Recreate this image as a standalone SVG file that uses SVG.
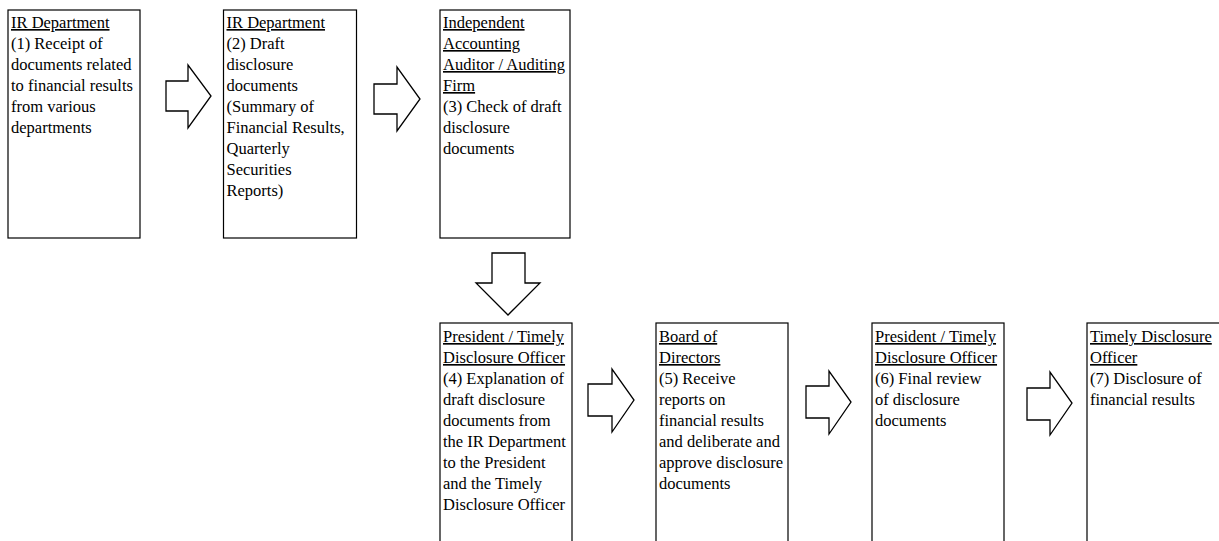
<svg xmlns="http://www.w3.org/2000/svg" width="1219" height="541" viewBox="0 0 1219 541">
<style>
.box{fill:#fff;stroke:#000;stroke-width:1.2}
.arr{fill:#fff;stroke:#000;stroke-width:1.3;stroke-linejoin:miter}
text{font-family:"Liberation Serif","Times New Roman",serif;font-size:16.5px;fill:#000}
.u{text-decoration:underline}
</style>
<rect width="1219" height="541" fill="#fff"/>
<g id="connectors">
<path class="arr" d="M166,81 H188 V65 L211,96 L188,128 V111 H166 Z"/>
<path class="arr" d="M374,84 H397 V67 L420,99 L397,131 V114 H374 Z"/>
<path class="arr" d="M492,253 H525 V283 H540 L508,315 L476,283 H492 Z"/>
<path class="arr" d="M588,384 H612 V369 L634,400 L612,432 V416 H588 Z"/>
<path class="arr" d="M806,386 H829 V371 L851,402 L829,434 V418 H806 Z"/>
<path class="arr" d="M1027,388 H1050 V372 L1072,403 L1050,435 V420 H1027 Z"/>
</g>
<g id="node1">
<rect class="box" x="8" y="10" width="132" height="228"/>
<text x="11" y="28"><tspan class="u">IR Department</tspan><tspan x="11" dy="21">(1) Receipt of</tspan><tspan x="11" dy="21">documents related</tspan><tspan x="11" dy="21">to financial results</tspan><tspan x="11" dy="21">from various</tspan><tspan x="11" dy="21">departments</tspan></text>
</g>
<g id="node2">
<rect class="box" x="223.5" y="10" width="133" height="228"/>
<text x="226.5" y="28"><tspan class="u">IR Department</tspan><tspan x="226.5" dy="21">(2) Draft</tspan><tspan x="226.5" dy="21">disclosure</tspan><tspan x="226.5" dy="21">documents</tspan><tspan x="226.5" dy="21">(Summary of</tspan><tspan x="226.5" dy="21">Financial Results,</tspan><tspan x="226.5" dy="21">Quarterly</tspan><tspan x="226.5" dy="21">Securities</tspan><tspan x="226.5" dy="21">Reports)</tspan></text>
</g>
<g id="node3">
<rect class="box" x="440" y="10" width="130" height="228"/>
<text x="443" y="28"><tspan class="u">Independent</tspan><tspan x="443" dy="21" class="u">Accounting</tspan><tspan x="443" dy="21" class="u">Auditor / Auditing</tspan><tspan x="443" dy="21" class="u">Firm</tspan><tspan x="443" dy="21">(3) Check of draft</tspan><tspan x="443" dy="21">disclosure</tspan><tspan x="443" dy="21">documents</tspan></text>
</g>
<g id="node4">
<rect class="box" x="440" y="323" width="132" height="240"/>
<text x="443" y="342"><tspan class="u">President / Timely</tspan><tspan x="443" dy="21" class="u">Disclosure Officer</tspan><tspan x="443" dy="21">(4) Explanation of</tspan><tspan x="443" dy="21">draft disclosure</tspan><tspan x="443" dy="21">documents from</tspan><tspan x="443" dy="21">the IR Department</tspan><tspan x="443" dy="21">to the President</tspan><tspan x="443" dy="21">and the Timely</tspan><tspan x="443" dy="21">Disclosure Officer</tspan></text>
</g>
<g id="node5">
<rect class="box" x="656" y="323" width="132" height="240"/>
<text x="659" y="342"><tspan class="u">Board of</tspan><tspan x="659" dy="21" class="u">Directors</tspan><tspan x="659" dy="21">(5) Receive</tspan><tspan x="659" dy="21">reports on</tspan><tspan x="659" dy="21">financial results</tspan><tspan x="659" dy="21">and deliberate and</tspan><tspan x="659" dy="21">approve disclosure</tspan><tspan x="659" dy="21">documents</tspan></text>
</g>
<g id="node6">
<rect class="box" x="872" y="323" width="132" height="240"/>
<text x="875" y="342"><tspan class="u">President / Timely</tspan><tspan x="875" dy="21" class="u">Disclosure Officer</tspan><tspan x="875" dy="21">(6) Final review</tspan><tspan x="875" dy="21">of disclosure</tspan><tspan x="875" dy="21">documents</tspan></text>
</g>
<g id="node7">
<rect class="box" x="1087" y="323" width="150" height="240"/>
<text x="1090" y="342"><tspan class="u">Timely Disclosure</tspan><tspan x="1090" dy="21" class="u">Officer</tspan><tspan x="1090" dy="21">(7) Disclosure of</tspan><tspan x="1090" dy="21">financial results</tspan></text>
</g>
</svg>
